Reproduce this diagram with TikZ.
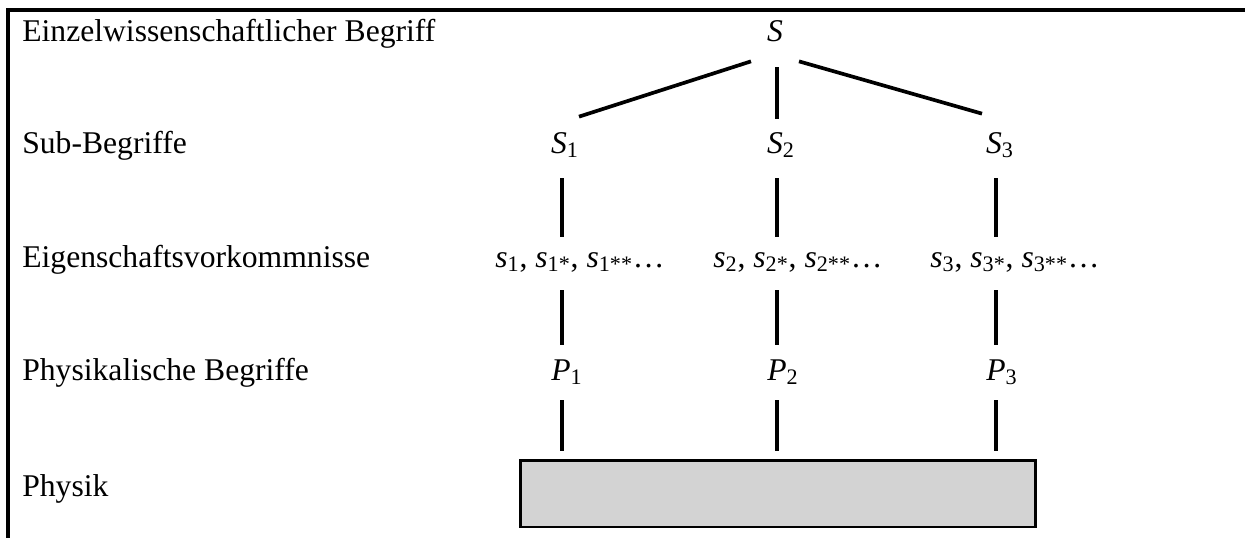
\documentclass[tikz,border=0pt]{standalone}
\usepackage{fontspec}
\setmainfont{Liberation Serif}
\usepackage{xcolor}
\definecolor{boxgray}{RGB}{211,211,211}

\begin{document}
\begin{tikzpicture}[
x=0.02cm,y=-0.02cm,
lbl/.style={anchor=base west, inner sep=0pt, font=\fontsize{18}{22}\selectfont},
term/.style={anchor=base, inner sep=0pt, text height=0.42cm, text depth=0.14cm, font=\fontsize{18}{22}\selectfont},
link/.style={draw, line width=2.1pt},
frame/.style={draw, line width=2pt},
physbox/.style={draw, line width=1.7pt, fill=boxgray, minimum width=10.32cm, minimum height=1.34cm, inner sep=0pt}
]
\useasboundingbox (0,0) rectangle (1245,538);

% frame
\coordinate (tl) at (8,10);
\coordinate (tr) at (1245,10);
\coordinate (bl) at (8,538);
\draw[frame] (tr) -- (tl) -- (bl);

% row labels
\node[lbl] (lEinzel) at (22,41) {Einzelwissenschaftlicher Begriff};
\node[lbl] (lSub) at (22,153) {Sub-Begriffe};
\node[lbl] (lEigen) at (22,267) {Eigenschaftsvorkommnisse};
\node[lbl] (lPhysB) at (22,380) {Physikalische Begriffe};
\node[lbl] (lPhys) at (22,496) {Physik};

% columns
\coordinate (c1) at (562,0);
\coordinate (c2) at (777,0);
\coordinate (c3) at (996,0);

\node[term] (S) at (775,41) {\textit{S}};
\node[term] (S1) at (565,153) {\textit{S}\textsubscript{1}};
\node[term] (S2) at (781,153) {\textit{S}\textsubscript{2}};
\node[term] (S3) at (1000,153) {\textit{S}\textsubscript{3}};

\node[term, anchor=base west] (s1) at (495,267) {\textit{s}\textsubscript{1}, \textit{s}\textsubscript{1*}, \textit{s}\textsubscript{1**}\dots};
\node[term, anchor=base west] (s2) at (713,267) {\textit{s}\textsubscript{2}, \textit{s}\textsubscript{2*}, \textit{s}\textsubscript{2**}\dots};
\node[term, anchor=base west] (s3) at (930,267) {\textit{s}\textsubscript{3}, \textit{s}\textsubscript{3*}, \textit{s}\textsubscript{3**}\dots};

\node[term] (P1) at (567,380) {\textit{P}\textsubscript{1}};
\node[term] (P2) at (783,380) {\textit{P}\textsubscript{2}};
\node[term] (P3) at (1002,380) {\textit{P}\textsubscript{3}};

\node[physbox] (phys) at (778,493.5) {};

% S to sub-concepts
\draw[link] ([shift={(-24,13)}]S.south) -- ([shift={(14,-15)}]S1.north);
\draw[link] ([shift={(2,19)}]S.south) -- ([shift={(-4,-13)}]S2.north);
\draw[link] ([shift={(24,13)}]S.south) -- ([shift={(-18,-18)}]S3.north);

% sub-concepts to occurrences
\draw[link, shorten <=10.2pt, shorten >=5.1pt] (S1.south -| c1) -- (s1.north -| c1);
\draw[link, shorten <=10.2pt, shorten >=5.1pt] (S2.south -| c2) -- (s2.north -| c2);
\draw[link, shorten <=10.2pt, shorten >=5.1pt] (S3.south -| c3) -- (s3.north -| c3);

% occurrences to physical concepts
\draw[link, shorten <=9.1pt, shorten >=8pt] (s1.south -| c1) -- (P1.north -| c1);
\draw[link, shorten <=9.1pt, shorten >=8pt] (s2.south -| c2) -- (P2.north -| c2);
\draw[link, shorten <=9.1pt, shorten >=8pt] (s3.south -| c3) -- (P3.north -| c3);

% physical concepts to physics
\draw[link, shorten <=7.4pt, shorten >=4pt] (P1.south -| c1) -- (phys.north -| c1);
\draw[link, shorten <=7.4pt, shorten >=4pt] (P2.south -| c2) -- (phys.north -| c2);
\draw[link, shorten <=7.4pt, shorten >=4pt] (P3.south -| c3) -- (phys.north -| c3);
\end{tikzpicture}
\end{document}
